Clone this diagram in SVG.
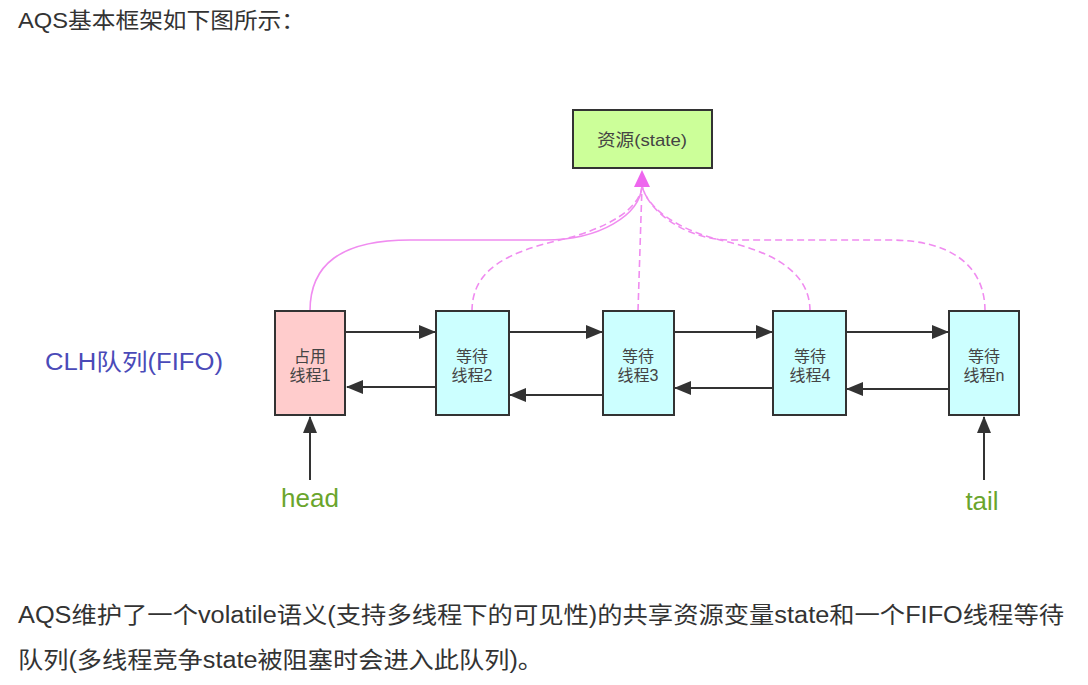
<svg xmlns="http://www.w3.org/2000/svg" width="1088" height="685" viewBox="0 0 1088 685">
<style>
  .txt { font-family: "Liberation Sans", "Noto Sans CJK SC", sans-serif; fill: #333; }
  .node rect { stroke: #333; stroke-width: 2; }
  .node text { font-family: "Liberation Sans", "Noto Sans CJK SC", sans-serif; font-size: 16px; fill: #444; text-anchor: middle; }
  .link { stroke: #333; stroke-width: 2; fill: none; marker-end: url(#ah); }
  .pink { stroke: #f08cf0; stroke-width: 1.6; fill: none; }
  .dash { stroke-dasharray: 7 4; }
</style>
<defs>
  <marker id="ah" markerUnits="userSpaceOnUse" markerWidth="18" markerHeight="14" refX="16" refY="7" orient="auto">
    <path d="M0,0 L17,7 L0,14 z" fill="#333"/>
  </marker>
</defs>
<rect width="1088" height="685" fill="#fff"/>
<text class="txt" x="18" y="28" font-size="22" textLength="287" lengthAdjust="spacingAndGlyphs">AQS基本框架如下图所示：</text>

<text x="45" y="370" font-family="Liberation Sans, Noto Sans CJK SC, sans-serif" font-size="23" fill="#4a4ab8" textLength="178" lengthAdjust="spacingAndGlyphs">CLH队列(FIFO)</text>

<g id="connectors">
  <path class="pink" d="M310,311 C310,265 340,240 410,240 L545,240 C600,240 640,215 642,186"/>
  <path class="pink dash" d="M472,311 C472,268 510,252 560,240 C610,228 640,208 642,186"/>
  <path class="pink dash" d="M638,311 L642,186"/>
  <path class="pink dash" d="M810,311 C810,268 765,250 720,240 C680,230 648,210 642,186"/>
  <path class="pink dash" d="M985,311 C985,265 950,240 890,240 L730,240 C690,240 650,215 642,186"/>
  <path d="M642,170 L650,187 L634,187 z" fill="#ee66ee"/>

  <line class="link" x1="346" y1="332" x2="435" y2="332"/>
  <line class="link" x1="509" y1="332" x2="602" y2="332"/>
  <line class="link" x1="674" y1="332" x2="772" y2="332"/>
  <line class="link" x1="846" y1="332" x2="948" y2="332"/>

  <line class="link" x1="436" y1="387" x2="347" y2="387"/>
  <line class="link" x1="603" y1="395" x2="510" y2="395"/>
  <line class="link" x1="773" y1="388" x2="675" y2="388"/>
  <line class="link" x1="949" y1="389" x2="847" y2="389"/>

  <line class="link" x1="310" y1="480" x2="310" y2="417"/>
  <line class="link" x1="984" y1="480" x2="984" y2="417"/>
</g>

<g id="state" class="node">
  <rect x="573" y="110" width="139" height="58" fill="#ccff99"/>
  <text x="642" y="146" style="font-size:17px" textLength="90" lengthAdjust="spacingAndGlyphs">资源(state)</text>
</g>
<g id="n1" class="node">
  <rect x="275" y="311" width="70" height="104" fill="#ffcccc"/>
  <text x="310" y="362">占用</text>
  <text x="310" y="381">线程1</text>
</g>
<g id="n2" class="node">
  <rect x="436" y="311" width="73" height="104" fill="#ccffff"/>
  <text x="472" y="362">等待</text>
  <text x="472" y="381">线程2</text>
</g>
<g id="n3" class="node">
  <rect x="603" y="311" width="71" height="104" fill="#ccffff"/>
  <text x="638" y="362">等待</text>
  <text x="638" y="381">线程3</text>
</g>
<g id="n4" class="node">
  <rect x="773" y="311" width="73" height="104" fill="#ccffff"/>
  <text x="810" y="362">等待</text>
  <text x="810" y="381">线程4</text>
</g>
<g id="nn" class="node">
  <rect x="949" y="311" width="70" height="104" fill="#ccffff"/>
  <text x="984" y="362">等待</text>
  <text x="984" y="381">线程n</text>
</g>

<text x="310" y="507" font-family="Liberation Sans, sans-serif" font-size="26" fill="#6aa52c" text-anchor="middle">head</text>
<text x="982" y="510" font-family="Liberation Sans, sans-serif" font-size="26" fill="#6aa52c" text-anchor="middle">tail</text>

<text class="txt" x="18" y="623" font-size="23" textLength="1046" lengthAdjust="spacingAndGlyphs">AQS维护了一个volatile语义(支持多线程下的可见性)的共享资源变量state和一个FIFO线程等待</text>
<text class="txt" x="18" y="668" font-size="23" textLength="525" lengthAdjust="spacingAndGlyphs">队列(多线程竞争state被阻塞时会进入此队列)。</text>
</svg>
